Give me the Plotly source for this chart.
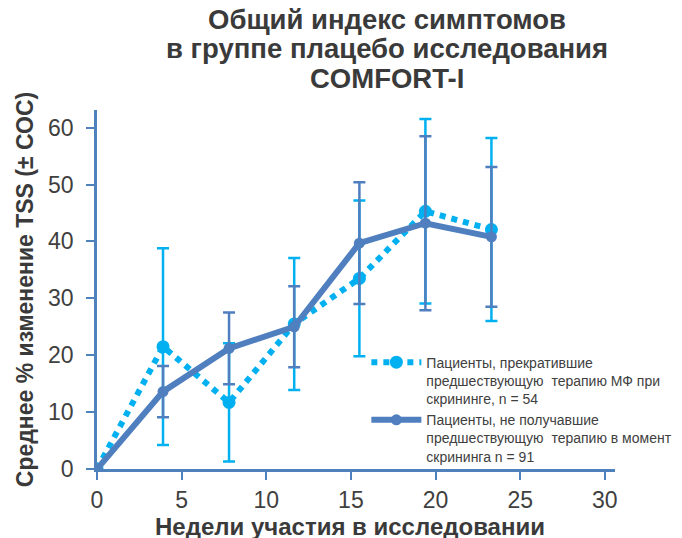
import plotly.graph_objects as go

weeks = [0, 3.9, 7.8, 11.65, 15.5, 19.4, 23.3]

prior_name = "Пациенты, прекратившие<br>предшествующую  терапию МФ при<br>скрининге, n = 54"
prior_mean = [0, 21.5, 11.7, 25.5, 33.5, 45.3, 42.1]
prior_err = [0, 17.3, 10.4, 11.6, 13.7, 16.2, 16.1]

naive_name = "Пациенты, не получавшие<br>предшествующую  терапию в момент<br>скрининга n = 91"
naive_mean = [0, 13.6, 21.2, 25.0, 39.7, 43.2, 40.8]
naive_err = [0, 4.5, 6.3, 7.1, 10.7, 15.3, 12.3]

x_ticks = [0, 5, 10, 15, 20, 25, 30]
y_ticks = [0, 10, 20, 30, 40, 50, 60]

title_lines = ["Общий индекс симптомов", "в группе плацебо исследования", "COMFORT-I"]
x_title = "Недели участия в исследовании"
y_title = "Среднее % изменение TSS (± СОС)"

light = "#00B0F0"
dark = "#4F7FBF"
axis_col = "#4F81BD"
txt = "#404040"
title_col = "#3a3a3a"

fig = go.Figure()
fig.add_trace(go.Scatter(
    x=weeks, y=prior_mean, name=prior_name, mode="lines+markers",
    line=dict(color=light, width=6, dash="dot"),
    marker=dict(color=light, size=13, symbol="circle"),
    error_y=dict(type="data", array=prior_err, visible=True, color=light,
                 thickness=2.5, width=6),
))
fig.add_trace(go.Scatter(
    x=weeks, y=naive_mean, name=naive_name, mode="lines+markers",
    line=dict(color=dark, width=6),
    marker=dict(color=dark, size=11, symbol="circle"),
    error_y=dict(type="data", array=naive_err, visible=True, color=dark,
                 thickness=2.5, width=6),
))

# plot area: 359 px tall; title line centres 91, 61, 31 px above it
for i, line in enumerate(title_lines):
    fig.add_annotation(
        text="<b>" + line + "</b>",
        xref="paper", yref="paper", x=0.560, y=1.0 + (91 - 30 * i) / 359,
        xanchor="center", yanchor="middle",
        showarrow=False, font=dict(size=27.5, color=title_col),
    )

# x-axis title, centred ~57 px below the axis line
fig.add_annotation(
    text="<b>" + x_title + "</b>",
    xref="paper", yref="paper", x=0.488, y=-57 / 359,
    xanchor="center", yanchor="middle",
    showarrow=False, font=dict(size=24, color=title_col),
)

fig.update_layout(
    width=682, height=538,
    margin=dict(l=89, r=75, t=102, b=77),
    paper_bgcolor="white", plot_bgcolor="white",
    font=dict(family="Liberation Sans, Arial, sans-serif", color=txt),
    showlegend=True,
    legend=dict(
        x=0.52, y=0.341, xanchor="left", yanchor="top",
        bgcolor="rgba(0,0,0,0)", font=dict(size=14, color=txt),
        itemwidth=50, valign="top", tracegroupgap=0,
    ),
    xaxis=dict(
        range=[0, 30.6], tickvals=x_ticks, showline=True, linecolor=axis_col,
        linewidth=2.5, ticks="outside", tickcolor=axis_col, ticklen=8, tickwidth=2,
        showgrid=False, zeroline=False, tickfont=dict(size=23, color=txt),
        automargin=False, ticklabelstandoff=1,
    ),
    yaxis=dict(
        range=[0, 63.1], tickvals=y_ticks, showline=True, linecolor=axis_col,
        linewidth=2.5, ticks="outside", tickcolor=axis_col, ticklen=8, tickwidth=2,
        showgrid=False, zeroline=False, tickfont=dict(size=23, color=txt),
        automargin=False, ticklabelstandoff=8,
        title=dict(text="<b>" + y_title + "</b>",
                   font=dict(size=23, color=title_col), standoff=9),
    ),
)

fig.write_html("out.html")
